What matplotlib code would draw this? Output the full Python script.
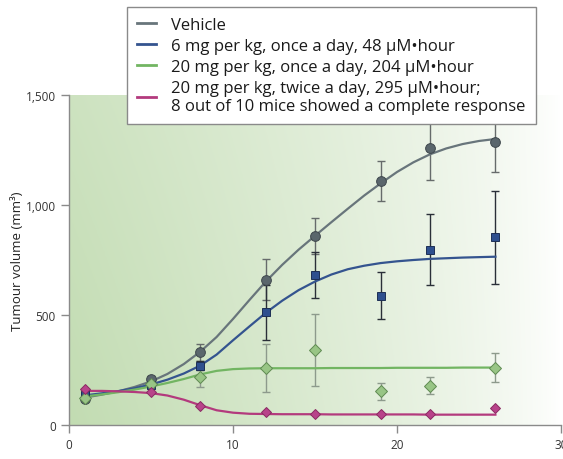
import numpy as np
import matplotlib
matplotlib.use("Agg")
import matplotlib.pyplot as plt
from matplotlib.lines import Line2D

plt.rcParams['font.family'] = ['Open Sans', 'DejaVu Sans']

# ---- data ----
days = [1, 5, 8, 12, 15, 19, 22, 26]

vehicle = [120, 207, 330, 661, 858, 1110, 1257, 1285]
vehicle_err = [10, 15, 40, 95, 82, 90, 142, 137]

mg6 = [135, 182, 270, 512, 682, 588, 797, 853]
mg6_err = [10, 12, 20, 125, 105, 108, 160, 212]

mg20 = [125, 188, 217, 258, 341, 153, 179, 261]
mg20_err = [8, 10, 43, 110, 165, 40, 40, 65]

mg20b = [165, 148, 88, 60, 50, 50, 50, 76]

fit_days = [1, 2, 3, 4, 5, 6, 7, 8, 9, 10, 11, 12, 13, 14, 15, 16, 17, 18, 19, 20,
            21, 22, 23, 24, 25, 26]
vehicle_fit = [125, 138, 153, 173, 198, 232, 277, 333, 400, 482, 568, 652, 728, 797, 860,
               922, 983, 1043, 1098, 1150, 1194, 1230, 1257, 1277, 1291, 1300]
mg6_fit = [135, 144, 154, 167, 184, 206, 234, 270, 320, 385, 448, 510, 565, 613, 652,
           684, 708, 724, 736, 744, 750, 755, 758, 761, 763, 765]
mg20_fit = [130, 139, 149, 161, 175, 191, 209, 230, 246, 254, 257, 258, 258, 258, 258,
            259, 259, 259, 259, 260, 260, 260, 260, 261, 261, 261]
mg20b_fit = [155, 155, 153, 150, 145, 134, 115, 90, 67, 56, 51, 50, 49, 49, 49,
             48, 48, 48, 48, 48, 48, 47, 47, 47, 47, 47]

labels = ["Vehicle",
          "6 mg per kg, once a day, 48 μM•hour",
          "20 mg per kg, once a day, 204 μM•hour",
          "20 mg per kg, twice a day, 295 μM•hour;\n8 out of 10 mice showed a complete response"]

c_veh = '#68757b'
c_blue = '#34548f'
c_green = '#72b562'
c_mag = '#b33a7d'

fig = plt.figure(figsize=(5.63, 4.6), dpi=100)
ax = fig.add_axes([69/563, 1-426/460, (561-69)/563, (426-96)/460])
ax.set_xlim(0, 30)
ax.set_ylim(0, 1500)

# gradient background
nx, ny = 300, 100
xf = np.linspace(0, 1, nx)[None, :]
yf = np.linspace(0, 1, ny)[:, None]  # 0 bottom, 1 top
w = np.clip(1 - xf, 0, 1) ** 0.75 * (0.82 + 0.18 * (1 - yf))
base = np.array([194, 220, 178]) / 255.0
img = 1 - w[..., None] * (1 - base[None, None, :])
ax.imshow(img, extent=[0, 30, 0, 1500], origin='lower', aspect='auto', zorder=0)

# error bars
ekw = dict(fmt='none', elinewidth=1.0, capsize=2.6, capthick=1.0, zorder=2)
ax.errorbar(days, vehicle, yerr=vehicle_err, ecolor='#666b6b', **ekw)
ax.errorbar(days, mg6, yerr=mg6_err, ecolor='#2a2f38', **ekw)
ax.errorbar(days, mg20, yerr=mg20_err, ecolor='#8d9a8c', **ekw)

# fitted curves
ax.plot(fit_days, vehicle_fit, color=c_veh, lw=1.6, zorder=3)
ax.plot(fit_days, mg6_fit, color=c_blue, lw=1.6, zorder=3)
ax.plot(fit_days, mg20_fit, color=c_green, lw=1.6, zorder=3)
ax.plot(fit_days, mg20b_fit, color=c_mag, lw=1.6, zorder=3)

# markers
ax.plot(days, vehicle, 'o', ms=7, mfc='#5a666c', mec='#3e474c', mew=0.7, zorder=4)
ax.plot(days, mg6, 's', ms=6, mfc='#2e4f8e', mec='#1d2f55', mew=0.7, zorder=4)
ax.plot(days, mg20, 'D', ms=6, mfc='#98c585', mec='#5f8a52', mew=0.7, zorder=4)
ax.plot(days, mg20b, 'D', ms=5.4, mfc='#b8438a', mec='#8a2a62', mew=0.7, zorder=5)

# axes styling
for s in ['top', 'right']:
    ax.spines[s].set_visible(False)
for s in ['left', 'bottom']:
    ax.spines[s].set_color('#8a8a8a')
    ax.spines[s].set_linewidth(1.0)
ax.set_xticks([0, 10, 20, 30])
ax.set_yticks([0, 500, 1000, 1500])
ax.set_yticklabels(['0', '500', '1,000', '1,500'])
ax.tick_params(axis='both', colors='#8a8a8a', labelcolor='#333333', labelsize=8.5,
               length=6, width=1.0, direction='out')
ax.set_ylabel('Tumour volume (mm³)', fontsize=9.5, color='#222222', labelpad=1)
ax.set_xlabel('Days on study', fontsize=9.5, color='#222222', labelpad=6)

handles = [Line2D([], [], color=c, lw=2) for c in [c_veh, c_blue, c_green, c_mag]]
leg = fig.legend(handles, labels, loc='upper left', bbox_to_anchor=(127/563, 1-8/460),
                 frameon=True, fancybox=False, framealpha=1, edgecolor='#8a8a8a',
                 fontsize=12, handlelength=1.15, handletextpad=0.9, labelspacing=0.3,
                 borderpad=0.6, borderaxespad=0)
leg.get_frame().set_linewidth(1.0)
leg.set_zorder(10)
for t in leg.get_texts():
    t.set_color('#1a1a1a')

fig.savefig('out.png', dpi=100)
